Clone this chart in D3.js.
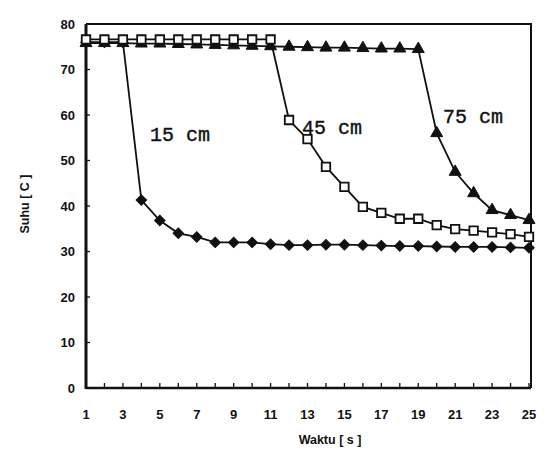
<!DOCTYPE html>
<html>
<head>
<meta charset="utf-8">
<script src="https://cdn.jsdelivr.net/npm/d3@7"></script>
<style>
  body { margin: 0; background: #fff; }
  .tick-label { font-family: Arial, "Liberation Sans", sans-serif; font-weight: bold; font-size: 13px; fill: #111; }
  .axis-title { font-family: Arial, "Liberation Sans", sans-serif; font-weight: bold; font-size: 12.5px; fill: #111; }
  .series-label { font-family: "Liberation Mono", "Courier New", monospace; font-size: 20px; fill: #111; stroke: #111; stroke-width: 0.4px; }
</style>
</head>
<body>
<div id="chart"></div>
<script>
// time in seconds
const waktu = d3.range(1, 26);

// temperature (C) for each distance
const suhu15 = [76, 76, 76, 41.3, 36.8, 34, 33.2, 32, 32, 32, 31.6, 31.4, 31.4, 31.5, 31.5,
                31.4, 31.3, 31.2, 31.2, 31.1, 31, 31, 31, 30.9, 30.8];
const suhu45 = [76.6, 76.6, 76.6, 76.6, 76.6, 76.6, 76.6, 76.6, 76.6, 76.6, 76.6, 58.9, 54.7, 48.6, 44.2,
                39.8, 38.5, 37.2, 37.2, 35.8, 34.9, 34.6, 34.2, 33.8, 33.2];
const suhu75 = [75.8, 75.8, 75.8, 75.7, 75.7, 75.6, 75.5, 75.4, 75.3, 75.2, 75.1, 75, 74.9, 74.8, 74.8,
                74.7, 74.6, 74.6, 74.5, 56, 47.5, 42.8, 39.1, 38, 36.9];

const seriesNames = ["15 cm", "45 cm", "75 cm"];
const xTicks = d3.range(1, 26, 2);
const yTicks = d3.range(0, 81, 10);

const width = 557, height = 464;
const svg = d3.select("#chart").append("svg")
    .attr("width", width)
    .attr("height", height);

const x = d3.scaleLinear().domain([1, 25]).range([86, 529]);
const y = d3.scaleLinear().domain([0, 80]).range([388, 24]);

// frame (top and right)
svg.append("path")
    .attr("d", `M${x(1)},${y(80)} H${x(25) + 2} V${y(0)}`)
    .attr("fill", "none")
    .attr("stroke", "#111")
    .attr("stroke-width", 2);

// x axis with small inner ticks at every second
const xAxis = svg.append("g").attr("transform", `translate(0,${y(0)})`);
xAxis.append("line")
    .attr("x1", x(1)).attr("x2", x(25) + 2)
    .attr("stroke", "#111").attr("stroke-width", 2.5);
xAxis.selectAll(".xt")
    .data(d3.range(1, 26))
  .join("line")
    .attr("class", "xt")
    .attr("x1", d => x(d)).attr("x2", d => x(d))
    .attr("y1", 0).attr("y2", -5)
    .attr("stroke", "#111").attr("stroke-width", 1.3);
xAxis.selectAll(".tick-label")
    .data(xTicks)
  .join("text")
    .attr("class", "tick-label")
    .attr("x", d => x(d))
    .attr("y", 31)
    .attr("text-anchor", "middle")
    .text(d => d);

// y axis
const yAxis = svg.append("g").attr("transform", `translate(${x(1)},0)`);
yAxis.append("line")
    .attr("y1", y(0) + 1).attr("y2", y(80))
    .attr("stroke", "#111").attr("stroke-width", 3);
yAxis.selectAll(".yt")
    .data(yTicks)
  .join("line")
    .attr("class", "yt")
    .attr("y1", d => y(d)).attr("y2", d => y(d))
    .attr("x1", 0).attr("x2", 4)
    .attr("stroke", "#111").attr("stroke-width", 1.3);
yAxis.selectAll(".tick-label")
    .data(yTicks)
  .join("text")
    .attr("class", "tick-label")
    .attr("x", -11)
    .attr("y", d => y(d))
    .attr("dy", "0.35em")
    .attr("text-anchor", "end")
    .text(d => d);

// axis titles
svg.append("text")
    .attr("class", "axis-title")
    .attr("x", 330).attr("y", 444)
    .attr("text-anchor", "middle")
    .text("Waktu [ s ]");
svg.append("text")
    .attr("class", "axis-title")
    .attr("transform", `translate(29,204) rotate(-90)`)
    .attr("text-anchor", "middle")
    .text("Suhu [ C ]");

const line = d3.line()
    .x((d, i) => x(waktu[i]))
    .y(d => y(d));

// wide diamond: a square turned 45 degrees
const series = [
  {name: seriesNames[0], values: suhu15, symbol: d3.symbolSquare, rot: 45, fill: "#111", size: 55, lx: 150, ly: 141},
  {name: seriesNames[1], values: suhu45, symbol: d3.symbolSquare, rot: 0, fill: "#fff", size: 72, lx: 302, ly: 134},
  {name: seriesNames[2], values: suhu75, symbol: d3.symbolTriangle, rot: 0, fill: "#111", size: 62, lx: 443, ly: 123}
];

// draw in order 75, 15, 45 so the squares sit on top in the shared plateau
[series[2], series[0], series[1]].forEach(s => {
  const g = svg.append("g");
  g.append("path")
      .datum(s.values)
      .attr("d", line)
      .attr("fill", "none")
      .attr("stroke", "#111")
      .attr("stroke-width", 1.8);
  g.selectAll("path.marker")
      .data(s.values)
    .join("path")
      .attr("class", "marker")
      .attr("transform", (d, i) => `translate(${x(waktu[i])},${y(d)}) rotate(${s.rot})`)
      .attr("d", d3.symbol().type(s.symbol).size(s.size))
      .attr("fill", s.fill)
      .attr("stroke", "#111")
      .attr("stroke-width", s.fill === "#fff" ? 1.8 : 1);
});

// series labels
svg.selectAll(".series-label")
    .data(series)
  .join("text")
    .attr("class", "series-label")
    .attr("x", d => d.lx)
    .attr("y", d => d.ly)
    .text(d => d.name);
</script>
</body>
</html>
